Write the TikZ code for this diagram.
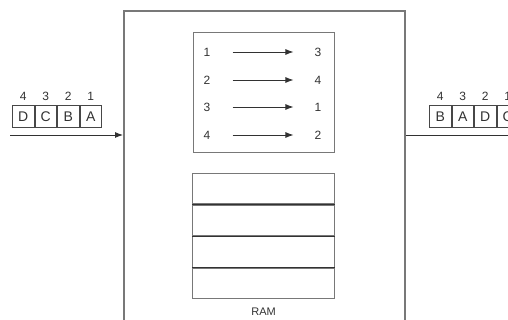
\documentclass[tikz,border=0pt]{standalone}
\usepackage{fontspec}
\setmainfont{Liberation Sans}
\usetikzlibrary{arrows.meta, positioning}
\definecolor{boxgray}{RGB}{120, 120, 120}
\definecolor{inkgray}{RGB}{50, 50, 50}

\begin{document}
\begin{tikzpicture}[x=1pt, y=-1pt, font=\fontsize{12}{14}\selectfont, every node/.style={text=inkgray}]
    % Styles
    \tikzstyle{cell} = [rectangle, draw=inkgray!90, line width=1pt, minimum width=21.5pt, minimum height=22pt, inner sep=0pt, font=\fontsize{14}{16}\selectfont]
    \tikzstyle{slot} = [rectangle, draw=boxgray, line width=1.1pt, minimum width=142pt, minimum height=30.5pt, inner sep=0pt]
    \tikzstyle{num} = [inner sep=0pt, font=\fontsize{12}{14}\selectfont]
    \tikzstyle{order} = [inner sep=0pt, font=\fontsize{12}{14}\selectfont]
    \tikzstyle{arrow} = [line width=0.9pt, -{Latex[length=8pt, width=6pt]}, inkgray]

    \clip (0,0) rectangle (508,320);

    % Nodes
    \node [rectangle, draw=boxgray, line width=1.6pt, minimum width=281pt, minimum height=340pt, anchor=north west] (main) at (123,10) {};
    \node [rectangle, draw=boxgray, line width=1.2pt, minimum width=141pt, minimum height=120pt, anchor=north west] (map) at (193,32) {};

    \node [num] (l1) at (207,52) {1};
    \node [num] (l2) at (207,80) {2};
    \node [num] (l3) at (207,107) {3};
    \node [num] (l4) at (207,135) {4};
    \node [num] (r1) at (318,52) {3};
    \node [num] (r2) at (318,80) {4};
    \node [num] (r3) at (318,107) {1};
    \node [num] (r4) at (318,135) {2};

    \node [slot, anchor=north west] (ram1) at (192,173) {};
    \node [slot, below=0pt of ram1] (ram2) {};
    \node [slot, below=0pt of ram2] (ram3) {};
    \node [slot, below=0pt of ram3] (ram4) {};
    \node [below=5pt of ram4, font=\fontsize{11}{13}\selectfont] (ramlabel) {RAM};

    % input cells
    \node [cell, anchor=north west] (inD) at (12,105) {D};
    \node [cell, right=0pt of inD] (inC) {C};
    \node [cell, right=0pt of inC] (inB) {B};
    \node [cell, right=0pt of inB] (inA) {A};
    \node [order, above=4pt of inD] (in4) {4};
    \node [order, above=4pt of inC] (in3) {3};
    \node [order, above=4pt of inB] (in2) {2};
    \node [order, above=4pt of inA] (in1) {1};

    % output cells
    \node [cell, anchor=north west] (outB) at (429,105) {B};
    \node [cell, right=0pt of outB] (outA) {A};
    \node [cell, right=0pt of outA] (outD) {D};
    \node [cell, right=0pt of outD] (outC) {C};
    \node [order, above=4pt of outB] (out4) {4};
    \node [order, above=4pt of outA] (out3) {3};
    \node [order, above=4pt of outD] (out2) {2};
    \node [order, above=4pt of outC] (out1) {1};

    \coordinate (src) at (10,135);
    \coordinate (dst) at (520,135);

    % Arrows
    \draw [arrow, shorten <=22pt, shorten >=21pt] (l1) -- (r1);
    \draw [arrow, shorten <=22pt, shorten >=21pt] (l2) -- (r2);
    \draw [arrow, shorten <=22pt, shorten >=21pt] (l3) -- (r3);
    \draw [arrow, shorten <=22pt, shorten >=21pt] (l4) -- (r4);
    \draw [arrow] (src) -- (src -| main.west);
    \draw [arrow] (dst -| main.east) -- (dst);
    \draw [inkgray, line width=1pt] (ram1.south west) -- (ram1.south east);
    \draw [inkgray, line width=1pt] (ram2.south west) -- (ram2.south east);
    \draw [inkgray, line width=1pt] (ram3.south west) -- (ram3.south east);
\end{tikzpicture}
\end{document}
